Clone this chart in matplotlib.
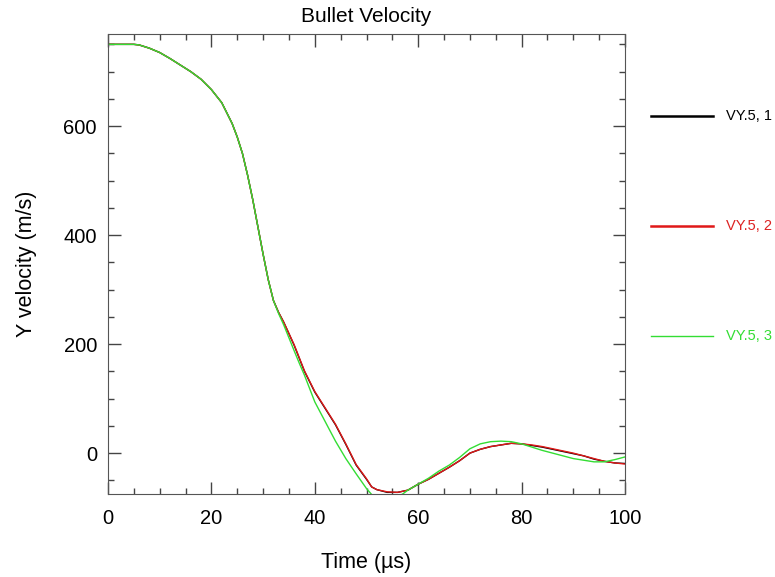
import matplotlib
matplotlib.use("Agg")
import matplotlib.pyplot as plt
from matplotlib.lines import Line2D
from matplotlib.ticker import MultipleLocator

plt.rcParams['font.family'] = ['Liberation Sans', 'DejaVu Sans']

# Time (us) and Y velocity (m/s)
t1 = [0, 5, 6, 8, 10, 12, 14, 16, 18, 20, 22, 24, 25, 26, 27, 28, 29, 30, 31, 32,
      33, 34, 36, 37, 38, 40, 42, 44, 46, 47, 48, 50, 51, 52, 54, 56, 58, 60, 62,
      64, 66, 68, 70, 72, 74, 76, 78, 80, 82, 84, 86, 88, 90, 92, 94, 96, 98, 100]
vy1 = [750, 750, 749, 743, 735, 724, 712, 700, 686, 667, 643, 605, 580, 550, 510,
       465, 415, 365, 318, 280, 258, 240, 198, 174, 150, 112, 82, 52, 16, -3, -22,
       -48, -62, -67, -72, -72, -68, -57, -48, -37, -26, -14, 0, 7, 12, 15, 18, 17,
       14, 11, 7, 3, -1, -5, -11, -15, -18, -19]
vy2 = [750, 750, 749, 743, 735, 724, 712, 700, 686, 667, 643, 605, 580, 550, 510,
       465, 415, 365, 318, 280, 258, 240, 199, 175, 151, 113, 83, 53, 17, -2, -21,
       -47, -62, -67, -71, -72, -68, -57, -48, -37, -26, -14, 0, 7, 12, 15, 18, 17,
       15, 12, 8, 4, 0, -5, -10, -15, -18, -20]
t3 = [0, 5, 6, 8, 10, 12, 14, 16, 18, 20, 22, 24, 25, 26, 27, 28, 29, 30, 31, 32,
      33, 34, 36, 37, 38, 40, 42, 44, 46, 48, 50, 51, 52, 54, 56, 57, 58, 60, 62,
      64, 66, 68, 70, 72, 74, 76, 78, 80, 82, 84, 86, 88, 90, 92, 94, 96, 98, 100]
vy3 = [750, 750, 749, 743, 735, 724, 712, 700, 686, 667, 643, 605, 580, 550, 510,
       465, 415, 365, 318, 280, 256, 235, 188, 165, 143, 94, 58, 22, -10, -38, -65,
       -76, -82, -82, -80, -75, -68, -57, -46, -33, -22, -8, 8, 17, 21, 22, 21, 17,
       11, 5, 0, -5, -10, -13, -16, -16, -12, -7]

labels = ['VY.5, 1', 'VY.5, 2', 'VY.5, 3']
colors = ['#000000', '#e01818', '#33dd33']
text_colors = ['#000000', '#dd2222', '#33dd33']

fig = plt.figure(figsize=(7.75, 5.77), dpi=100)
ax = fig.add_axes([108 / 775, 1 - 494 / 577, 517 / 775, 460 / 577])

ax.plot(t1, vy1, color=colors[0], linewidth=1.0)
ax.plot(t1, vy2, color=colors[1], linewidth=1.0)
ax.plot(t3, vy3, color=colors[2], linewidth=1.0)

ax.set_xlim(0, 100)
ax.set_ylim(-75, 769)
ax.xaxis.set_major_locator(MultipleLocator(20))
ax.xaxis.set_minor_locator(MultipleLocator(5))
ax.yaxis.set_major_locator(MultipleLocator(200))
ax.yaxis.set_minor_locator(MultipleLocator(50))
ax.tick_params(which='both', direction='in', top=True, right=True,
               color='#444444', labelsize=14.5)
ax.tick_params(axis='x', which='both', pad=11)
ax.tick_params(axis='y', which='both', pad=8)
ax.tick_params(which='major', length=9, width=1)
ax.tick_params(which='minor', length=4.5, width=1)
for s in ax.spines.values():
    s.set_color('#555555')

ax.set_title('Bullet Velocity', fontsize=15, pad=8.6)
ax.set_xlabel('Time (µs)', fontsize=15.5, labelpad=17)
ax.set_ylabel('Y velocity (m/s)', fontsize=15.5, labelpad=19)

# legend on the right, outside the plot area
legend_y = [116, 226, 336]
legend_lw = [1.8, 1.8, 1.0]
for lab, c, tc, yp, lw in zip(labels, colors, text_colors, legend_y, legend_lw):
    yf = 1 - yp / 577
    fig.add_artist(Line2D([651 / 775, 713 / 775], [yf, yf], color=c, linewidth=lw,
                          transform=fig.transFigure))
    fig.text(726 / 775, yf, lab, color=tc, fontsize=10.5, va='center', ha='left')

fig.savefig('out.png', dpi=100)
